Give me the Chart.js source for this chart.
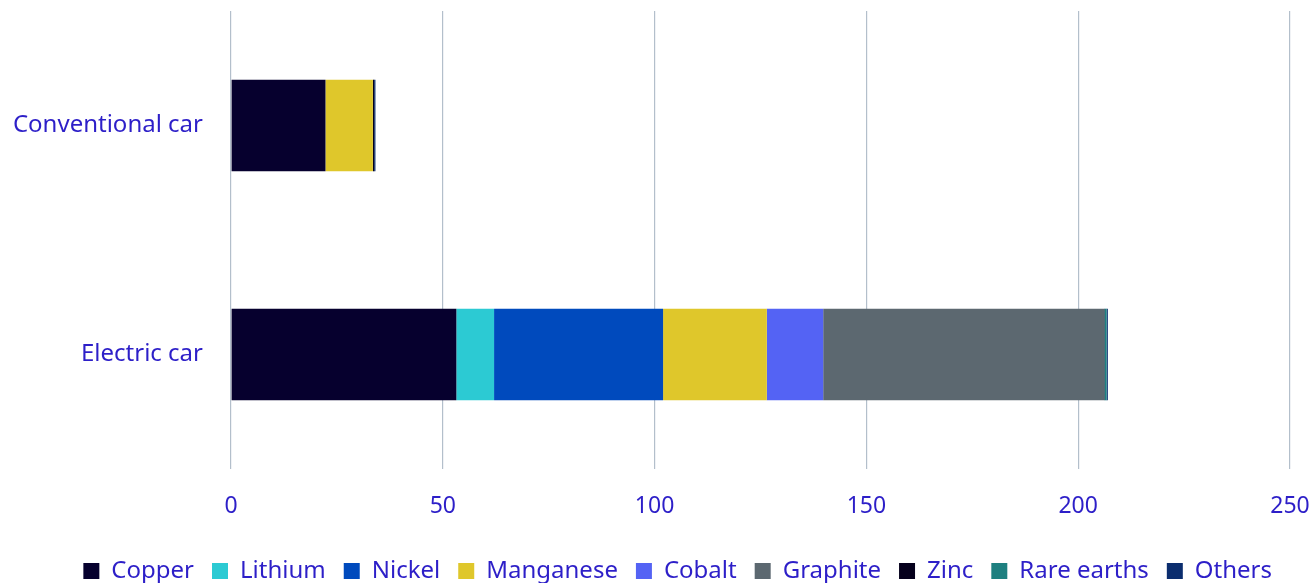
<!DOCTYPE html>
<html>
<head>
<meta charset="utf-8">
<script src="https://cdn.jsdelivr.net/npm/chart.js@4"></script>
<style>
  html, body { margin: 0; padding: 0; background: #fff; overflow: hidden; }
  #wrap { width: 1314px; height: 583px; }
  canvas { display: block; }
</style>
</head>
<body>
<div id="wrap"><canvas id="c"></canvas></div>
<script>
// kg per vehicle
const categories = ["Conventional car", "Electric car"];
const materials = ["Copper", "Lithium", "Nickel", "Manganese", "Cobalt", "Graphite", "Zinc", "Rare earths", "Others"];
const conventional = [22.3, 0, 0, 11.2, 0, 0, 0.3, 0, 0.3];
const electric = [53.2, 8.9, 39.9, 24.5, 13.3, 66.3, 0.1, 0.5, 0.3];
const colors = ["#06002e", "#2ccad3", "#004abd", "#dfc72b", "#5463f4", "#5c6870", "#05001c", "#1e8080", "#0b2d6e"];
const xTicks = [0, 50, 100, 150, 200, 250];

const textColor = "#2d1fc8";
const font = "'Noto Sans', sans-serif";

const ctx = document.getElementById("c").getContext("2d");
const chart = new Chart(ctx, {
  type: "bar",
  data: {
    labels: categories,
    datasets: materials.map((m, i) => ({
      label: m,
      data: [conventional[i], electric[i]],
      backgroundColor: colors[i],
      borderWidth: 0,
      barPercentage: 0.8,
      categoryPercentage: 0.5,
    })),
  },
  options: {
    indexAxis: "y",
    responsive: true,
    maintainAspectRatio: false,
    animation: false,
    layout: { padding: { top: 11, right: 24, left: 0, bottom: 0 } },
    scales: {
      x: {
        stacked: true,
        min: 0,
        max: 250,
        afterBuildTicks: (s) => { s.ticks = xTicks.map((v) => ({ value: v })); },
        grid: { color: "#b3bfcb", lineWidth: 1.2, drawTicks: false },
        border: { display: false },
        ticks: { color: textColor, font: { family: font, size: 23 }, padding: 24 },
        afterFit: (s) => { s.height = 72; s.paddingLeft = 0; s.paddingRight = 0; },
      },
      y: {
        stacked: true,
        grid: { display: false, drawTicks: false },
        border: { display: false },
        ticks: { color: textColor, font: { family: font, size: 24 }, padding: 28 },
        afterFit: (s) => { s.width = 231; s.paddingTop = 0; s.paddingBottom = 0; },
      },
    },
    plugins: {
      legend: {
        position: "bottom",
        align: "end",
        maxHeight: 42,
        labels: {
          color: textColor,
          font: { family: font, size: 24 },
          boxWidth: 16,
          boxHeight: 16,
          padding: 18,
        },
      },
      tooltip: { enabled: false },
    },
  },
});
</script>
</body>
</html>
